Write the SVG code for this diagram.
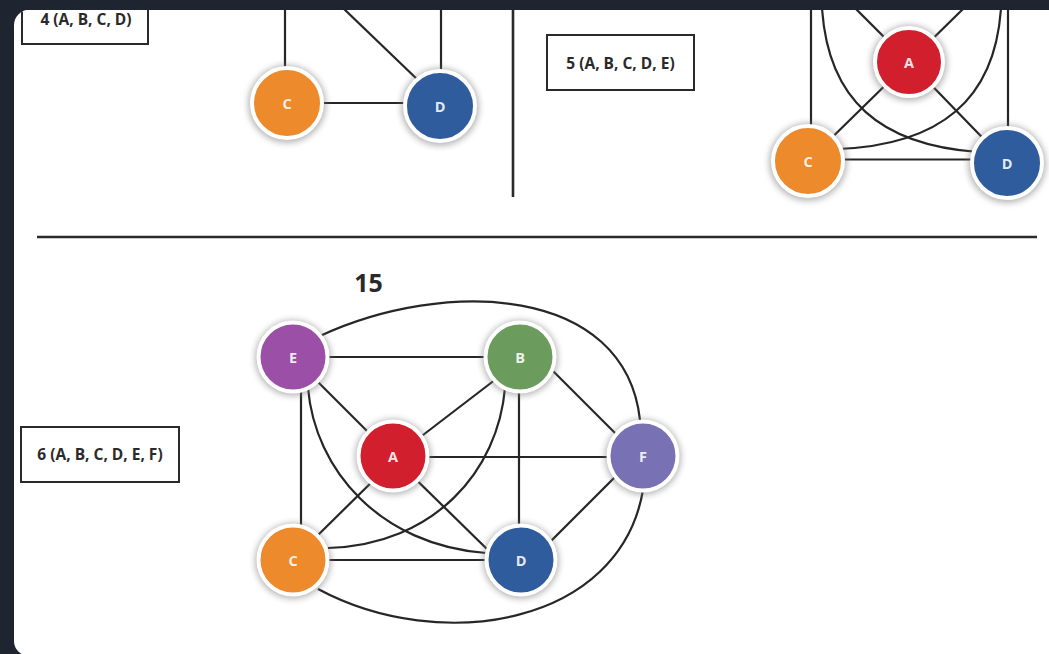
<svg xmlns="http://www.w3.org/2000/svg" width="1049" height="654" viewBox="0 0 1049 654">
  <style>
    .edge { fill: none; stroke: #262626; stroke-width: 2.2; stroke-linecap: butt; }
    .rule { fill: none; stroke: #2a2a2a; stroke-width: 2.6; }
    .box { fill: #ffffff; stroke: #2a2a2a; stroke-width: 2; }
    .boxtxt { font-family: "Open Sans", "Liberation Sans", sans-serif; font-weight: 700; font-size: 15.5px; fill: #2a2a2a; text-anchor: middle; }
    .big { font-family: "Open Sans", "Liberation Sans", sans-serif; font-weight: 700; font-size: 25px; fill: #2a2a2a; text-anchor: middle; }
    .shadow { fill: #7a7a7a; opacity: 0.55; filter: url(#blur); }
    .disk { stroke: #ffffff; stroke-width: 4; }
    .lbl { font-family: "Open Sans", "Liberation Sans", sans-serif; font-weight: 700; font-size: 14.5px; fill: #ffffff; fill-opacity: 0.88; text-anchor: middle; dominant-baseline: central; }
    .orange { fill: #ec8a2c; }
    .blue { fill: #2f5c9d; }
    .red { fill: #d21f2d; }
    .green { fill: #6b9c5e; }
    .purple { fill: #9b4fa6; }
    .violet { fill: #7872b4; }
  </style>
  <defs>
    <filter id="blur" x="-50%" y="-50%" width="200%" height="200%">
      <feGaussianBlur stdDeviation="3"/>
    </filter>
    <clipPath id="card">
      <rect x="14" y="10" width="1100" height="646" rx="15"/>
    </clipPath>
  </defs>

  <rect x="0" y="0" width="1049" height="654" fill="#1f2431"/>
  <rect x="14" y="10" width="1100" height="646" rx="15" fill="#ffffff"/>

  <g clip-path="url(#card)">
    <g id="label-4">
      <rect class="box" x="22" y="-5" width="126" height="49"/>
      <text class="boxtxt" x="86" y="25">4 (A, B, C, D)</text>
    </g>
    <g id="label-5">
      <rect class="box" x="547" y="35" width="147" height="55"/>
      <text class="boxtxt" x="620.5" y="68.5">5 (A, B, C, D, E)</text>
    </g>
    <g id="label-6">
      <rect class="box" x="21" y="427" width="158" height="55"/>
      <text class="boxtxt" x="100" y="460">6 (A, B, C, D, E, F)</text>
    </g>
    <g id="count-15">
      <text class="big" x="368.5" y="292">15</text>
    </g>

    <g id="dividers">
      <path class="rule" d="M513,8 V197"/>
      <path class="rule" d="M37,237 H1037"/>
    </g>

    <g id="connectors">
      <!-- graph 4 -->
      <path class="edge" d="M285,8 V70"/>
      <path class="edge" d="M441,8 V72"/>
      <path class="edge" d="M343,8 L420,82"/>
      <path class="edge" d="M300,103 H420"/>
      <!-- graph 5 -->
      <path class="edge" d="M811,8 V130"/>
      <path class="edge" d="M1008,8 V132"/>
      <path class="edge" d="M909,62 L855,8"/>
      <path class="edge" d="M909,62 L964,8"/>
      <path class="edge" d="M909,62 L808,161"/>
      <path class="edge" d="M909,62 L1007,163"/>
      <path class="edge" d="M822,8 C828,100 880,145 978,152"/>
      <path class="edge" d="M1001,8 C995,100 940,145 838,149"/>
      <path class="edge" d="M830,159.5 H985"/>
      <!-- graph 6 -->
      <path class="edge" d="M293,357 H520"/>
      <path class="edge" d="M293,357 L393,457"/>
      <path class="edge" d="M301,357 V560"/>
      <path class="edge" d="M393,458 L500,376"/>
      <path class="edge" d="M393,457 H643"/>
      <path class="edge" d="M385,469 L315,538"/>
      <path class="edge" d="M393,457 L490,552"/>
      <path class="edge" d="M540,358 L625,443"/>
      <path class="edge" d="M519,357 V560"/>
      <path class="edge" d="M540,552 L625,467"/>
      <path class="edge" d="M293,560 H521"/>
      <path class="edge" d="M308,388 C315,470 380,545 486,553"/>
      <path class="edge" d="M505,388 C498,470 435,545 328,548"/>
      <path class="edge" d="M320,336 C445,278 625,285 640,420"/>
      <path class="edge" d="M318,589 C441,655 620,625 643,490"/>
    </g>

    <g id="g4-C">
      <circle class="shadow" cx="287" cy="104" r="39"/>
      <circle class="disk orange" cx="287" cy="103" r="35"/>
      <text class="lbl" x="287" y="103">C</text>
    </g>
    <g id="g4-D">
      <circle class="shadow" cx="440" cy="107" r="39"/>
      <circle class="disk blue" cx="440" cy="106" r="35"/>
      <text class="lbl" x="440" y="106">D</text>
    </g>

    <g id="g5-A">
      <circle class="shadow" cx="909" cy="63" r="38"/>
      <circle class="disk red" cx="909" cy="62" r="34"/>
      <text class="lbl" x="909" y="62">A</text>
    </g>
    <g id="g5-C">
      <circle class="shadow" cx="808" cy="162" r="39"/>
      <circle class="disk orange" cx="808" cy="161" r="35"/>
      <text class="lbl" x="808" y="161">C</text>
    </g>
    <g id="g5-D">
      <circle class="shadow" cx="1007" cy="164" r="39"/>
      <circle class="disk blue" cx="1007" cy="163" r="35"/>
      <text class="lbl" x="1007" y="163">D</text>
    </g>

    <g id="g6-E">
      <circle class="shadow" cx="293" cy="358" r="38"/>
      <circle class="disk purple" cx="293" cy="357" r="34.5"/>
      <text class="lbl" x="293" y="357">E</text>
    </g>
    <g id="g6-B">
      <circle class="shadow" cx="520" cy="358" r="38"/>
      <circle class="disk green" cx="520" cy="357" r="34.5"/>
      <text class="lbl" x="520" y="357">B</text>
    </g>
    <g id="g6-A">
      <circle class="shadow" cx="393" cy="457" r="38"/>
      <circle class="disk red" cx="393" cy="456" r="34.5"/>
      <text class="lbl" x="393" y="456">A</text>
    </g>
    <g id="g6-F">
      <circle class="shadow" cx="643" cy="457" r="38"/>
      <circle class="disk violet" cx="643" cy="456" r="34.5"/>
      <text class="lbl" x="643" y="456">F</text>
    </g>
    <g id="g6-C">
      <circle class="shadow" cx="293" cy="561" r="38"/>
      <circle class="disk orange" cx="293" cy="560" r="34.5"/>
      <text class="lbl" x="293" y="560">C</text>
    </g>
    <g id="g6-D">
      <circle class="shadow" cx="521" cy="561" r="38"/>
      <circle class="disk blue" cx="521" cy="560" r="34.5"/>
      <text class="lbl" x="521" y="560">D</text>
    </g>
  </g>
</svg>
